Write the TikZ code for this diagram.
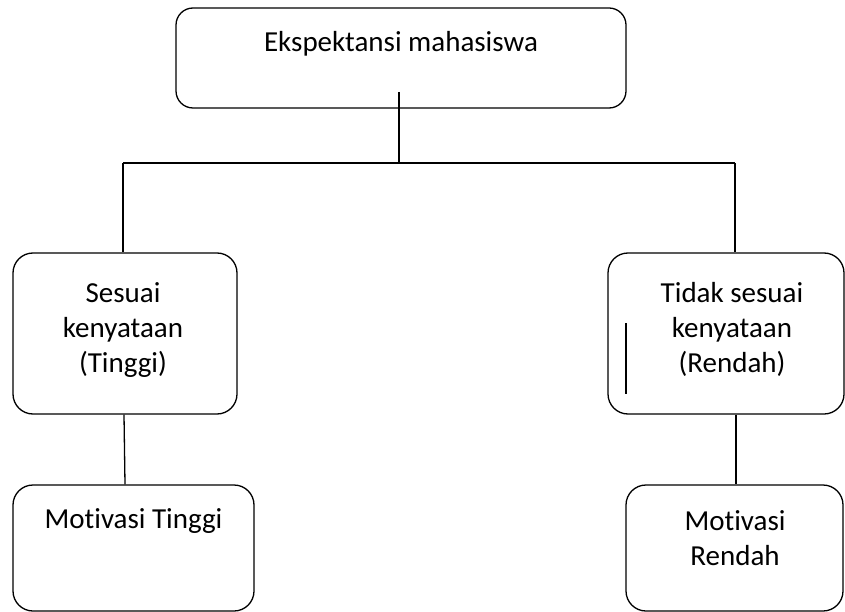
\documentclass[tikz,border=0pt]{standalone}
\usepackage{fontspec}
\setmainfont{Carlito}[Ligatures={NoCommon}]
\begin{document}
\begin{tikzpicture}[x=1pt,y=-1pt,
  box/.style={draw,line width=1.3pt,rounded corners=#1,inner sep=0pt},
  box/.default=20pt,
  lbl/.style={inner sep=0pt,align=center,font=\fontsize{29}{35}\selectfont},
  conn/.style={line width=1.3pt}]
\useasboundingbox (0,0) rectangle (845,612);
% boxes
\node[box=17pt,minimum width=450pt,minimum height=100pt] (top) at (401,58) {};
\node[box,minimum width=224pt,minimum height=161pt] (lmid) at (125,333.5) {};
\node[box,minimum width=236pt,minimum height=161pt] (rmid) at (726,333.5) {};
\node[box,minimum width=241pt,minimum height=126pt] (lbot) at (133.5,548) {};
\node[box,minimum width=217pt,minimum height=126pt] (rbot) at (734.5,548) {};
% labels (base anchor = baseline of last line)
\node[lbl,anchor=base] (ttop) at (401,52) {Ekspektansi mahasiswa};
\node[lbl,anchor=base] (tlmid) at (123,372) {Sesuai\\kenyataan\\(Tinggi)};
\node[lbl,anchor=base] (trmid) at (732,372) {Tidak sesuai\\kenyataan\\(Rendah)};
\node[lbl,anchor=base] (tlbot) at (133.5,528) {Motivasi Tinggi};
\node[lbl,anchor=base] (trbot) at (735,565) {Motivasi\\Rendah};
% connector points
\coordinate (c0) at (399,92);
\coordinate (c1) at (399,163);
\coordinate (hl) at (123,163);
\coordinate (hr) at (735,163);
\coordinate (s1) at (626,323);
\coordinate (s2) at (626,394);
\draw[conn] (c0) -- (c1);
\draw[conn] (hl) -- (hr);
\draw[conn] (hl) -- (hl |- lmid.north);
\draw[conn] (hr) -- (hr |- rmid.north);
\draw[conn] (124,0 |- lmid.south) -- (125,0 |- lbot.north);
\draw[conn] (736,0 |- rmid.south) -- (736,0 |- rbot.north);
\draw[conn] (s1) -- (s2);
\end{tikzpicture}
\end{document}
